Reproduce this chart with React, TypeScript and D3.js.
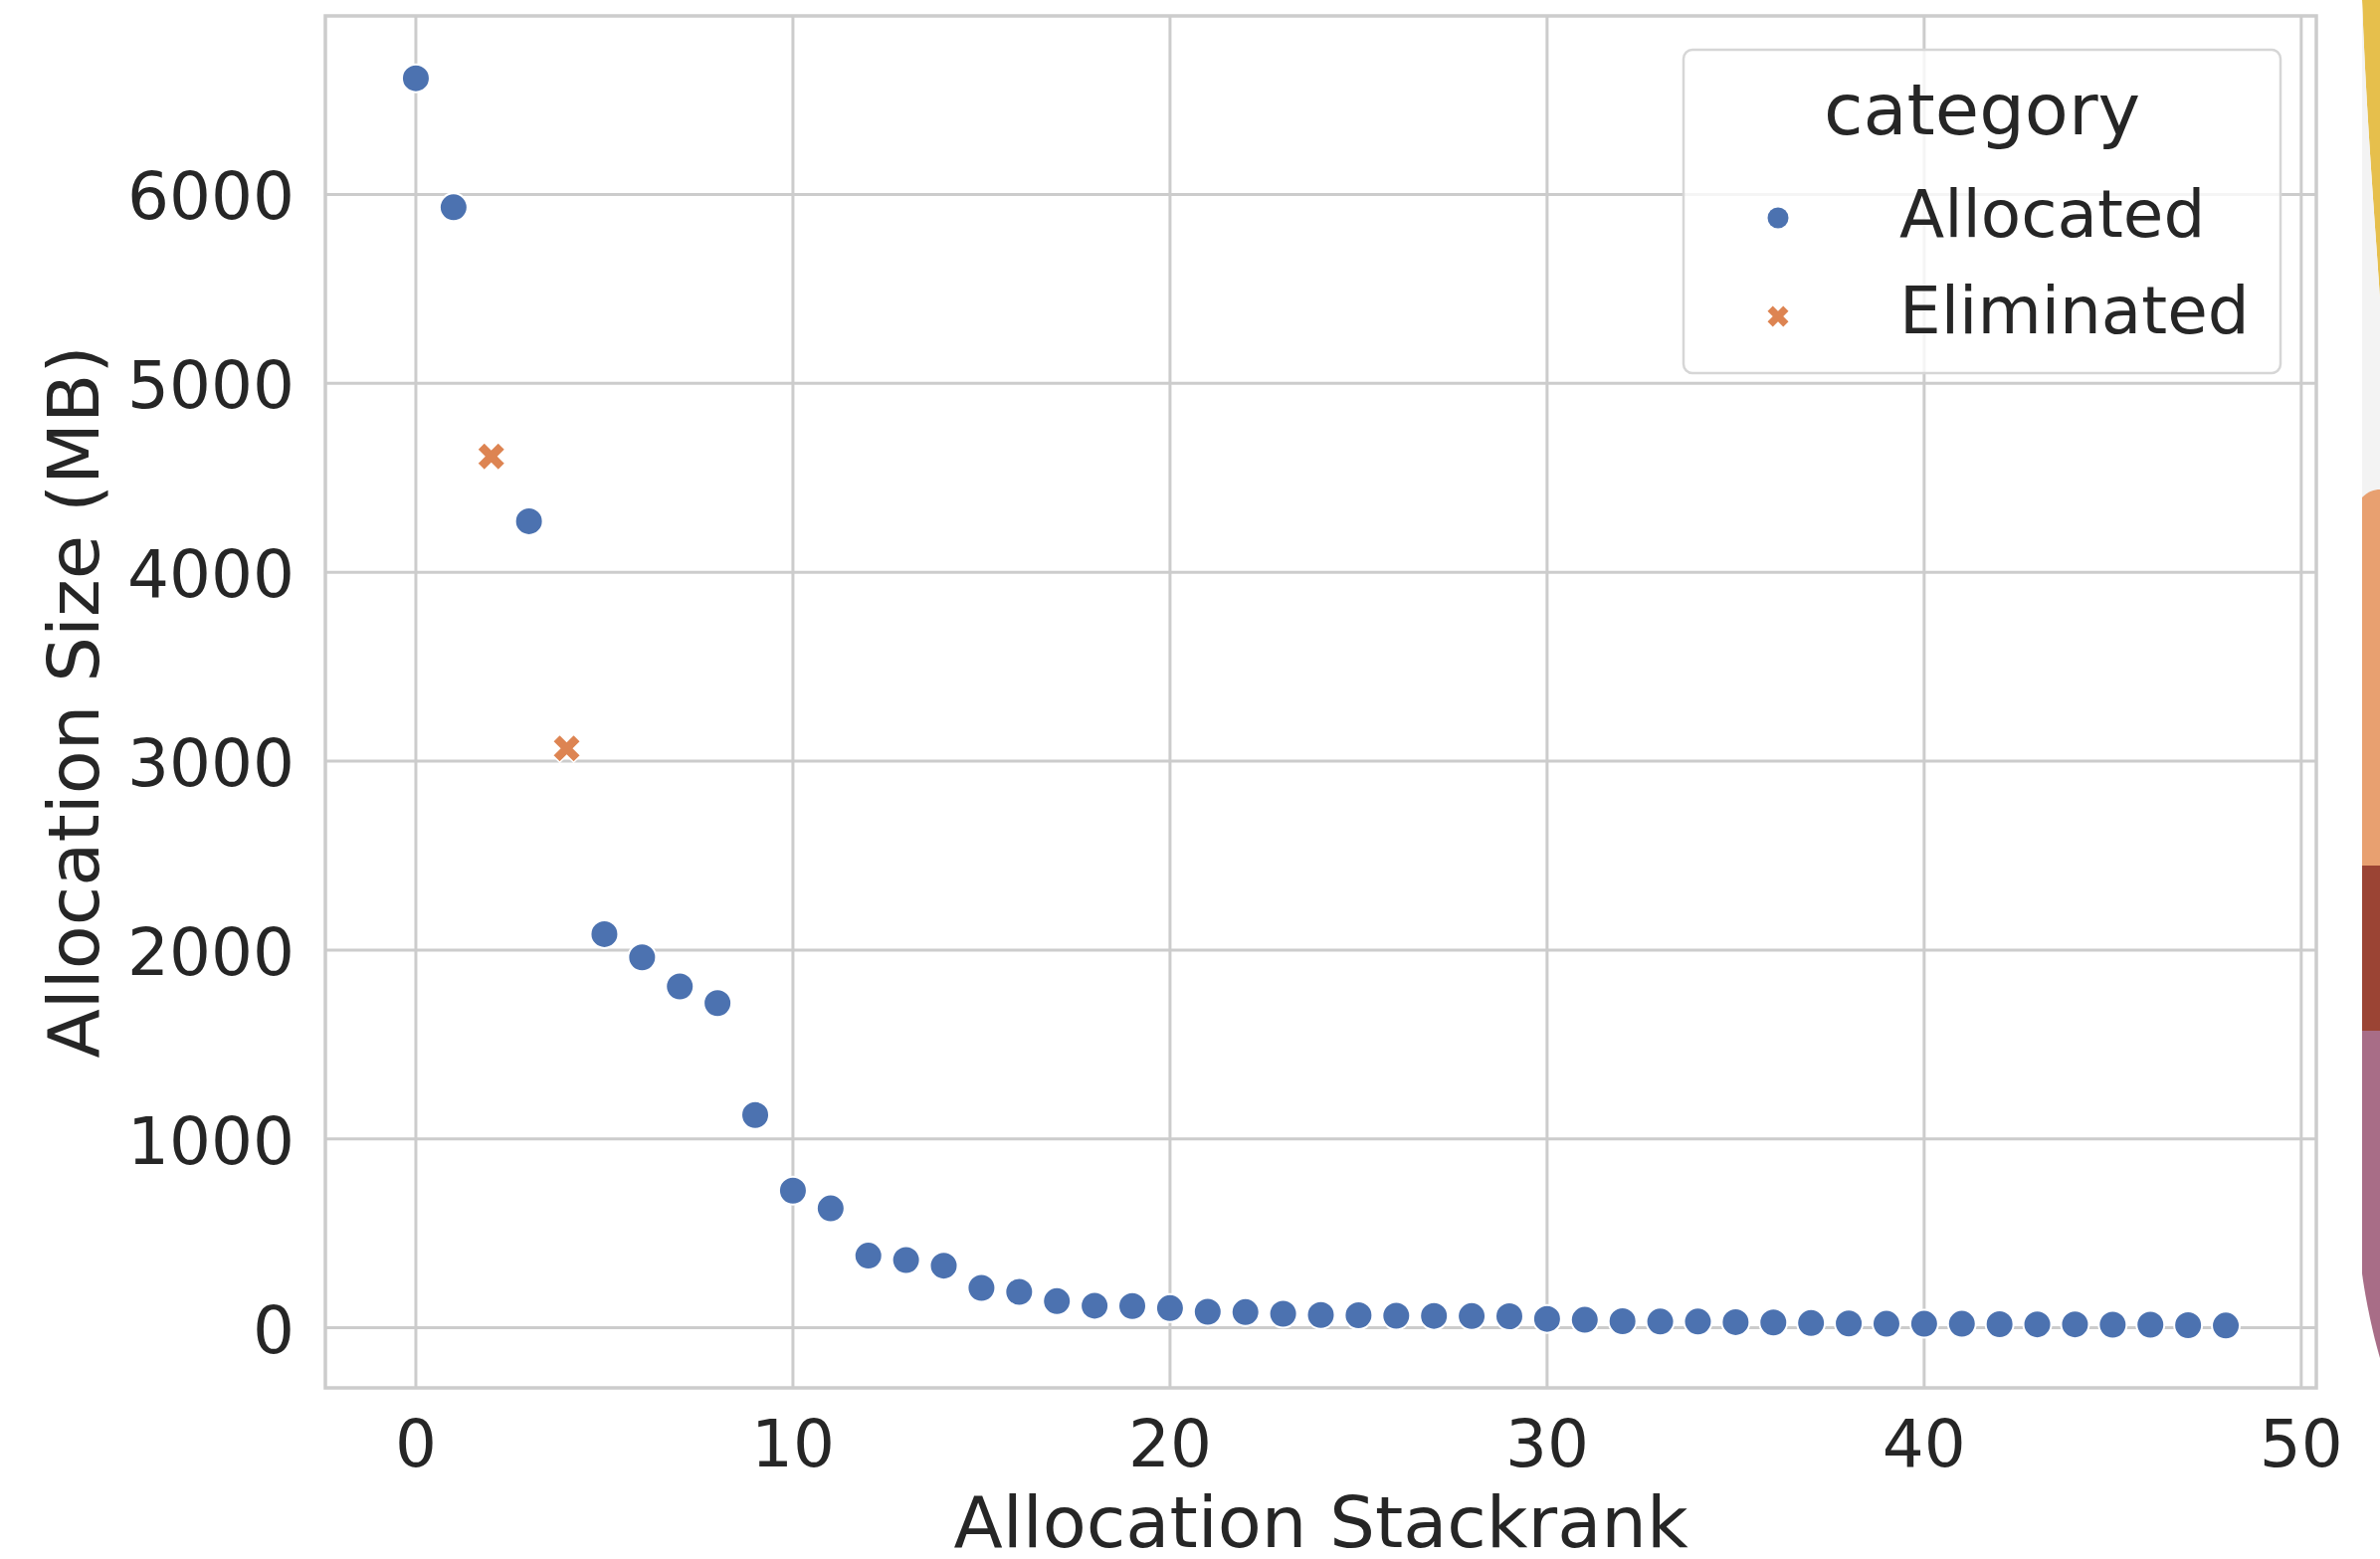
import React from 'react';
import * as d3 from 'd3';

// allocation stackrank (x) and size in MB (y)
const stackrank = [
  0, 1, 2, 3, 4, 5, 6, 7, 8, 9,
  10, 11, 12, 13, 14, 15, 16, 17, 18, 19,
  20, 21, 22, 23, 24, 25, 26, 27, 28, 29,
  30, 31, 32, 33, 34, 35, 36, 37, 38, 39,
  40, 41, 42, 43, 44, 45, 46, 47, 48,
];
const sizeMB = [
  6615, 5932, 4613, 4270, 3067, 2084, 1961, 1807, 1719, 1126,
  726, 632, 382, 359, 329, 211, 190, 141, 117, 115,
  104, 85, 83, 74, 68, 66, 64, 63, 62, 61,
  47, 42, 35, 33, 33, 30, 28, 25, 23, 21,
  21, 21, 19, 18, 18, 16, 16, 14, 12,
];
const eliminatedRanks = [2, 4];
const categories = ['Allocated', 'Eliminated'];
const xTicks = [0, 10, 20, 30, 40, 50];
const yTicks = [0, 1000, 2000, 3000, 4000, 5000, 6000];

const W = 2392;
const H = 1567;
const colors = ['#4c72b0', '#dd8452'];
const textColor = '#262626';
const gridColor = '#cccccc';
const font = '"DejaVu Sans", sans-serif';

// matplotlib's filled 'X' marker, centred, half size = s
const xMarker = (s: number) => {
  const pts = [[-1, -2], [0, -1], [1, -2], [2, -1], [1, 0], [2, 1], [1, 2], [0, 1], [-1, 2], [-2, 1], [-1, 0], [-2, -1]];
  return 'M' + pts.map(p => [p[0] * s / 2, p[1] * s / 2].join(',')).join('L') + 'Z';
};

const Marker = ({ cat, cx, cy, r, edge }: { cat: string; cx: number; cy: number; r: number; edge: number }) => {
  if (cat === 'Eliminated') {
    return <path d={xMarker(r)} transform={`translate(${cx},${cy})`} fill={colors[1]}
                 stroke="#fff" strokeWidth={edge} strokeLinejoin="miter"/>;
  }
  return <circle cx={cx} cy={cy} r={r} fill={colors[0]} stroke="#fff" strokeWidth={edge}/>;
};

const App = () => {
  const left = 327, right = 2328, top = 16, bottom = 1395;

  // 5% margins like matplotlib's autoscale
  const xExt = d3.extent(stackrank) as [number, number];
  const yExt = d3.extent(sizeMB) as [number, number];
  const xPad = (xExt[1] - xExt[0]) * 0.05;
  const yPad = (yExt[1] - yExt[0]) * 0.05;
  const x = d3.scaleLinear().domain([xExt[0] - xPad, xExt[1] + xPad]).range([left, right]);
  const y = d3.scaleLinear().domain([yExt[0] - yPad, yExt[1] + yPad]).range([bottom, top]);

  const points = stackrank.map((r, i) => ({
    rank: r,
    size: sizeMB[i],
    cat: eliminatedRanks.includes(r) ? categories[1] : categories[0],
  }));

  const legend = { x: 1692, y: 50, w: 600, h: 325 };

  return (
    <svg width={W} height={H} viewBox={`0 0 ${W} ${H}`}
         style={{ position: 'absolute', left: 0, top: 0, background: '#fff' }}
         fontFamily={font} fill={textColor}>
      <rect x={0} y={0} width={W} height={H} fill="#fff"/>

      {/* grid */}
      <g stroke={gridColor} strokeWidth={3}>
        {xTicks.map(t => <line key={'gx' + t} x1={x(t)} x2={x(t)} y1={top} y2={bottom}/>)}
        {yTicks.map(t => <line key={'gy' + t} x1={left} x2={right} y1={y(t)} y2={y(t)}/>)}
      </g>
      <rect x={left} y={top} width={right - left} height={bottom - top}
            fill="none" stroke={gridColor} strokeWidth={3.5}/>

      {/* points */}
      <g>
        {points.map(p => (
          <Marker key={p.rank} cat={p.cat} cx={x(p.rank)} cy={y(p.size)}
                  r={p.cat === 'Eliminated' ? 14 : 14} edge={p.cat === 'Eliminated' ? 1.5 : 2}/>
        ))}
      </g>

      {/* tick labels */}
      <g fontSize={66}>
        {xTicks.map(t => (
          <text key={'tx' + t} x={x(t)} y={1474} textAnchor="middle">{t}</text>
        ))}
        {yTicks.map(t => (
          <text key={'ty' + t} x={296} y={y(t) + 25} textAnchor="end">{t}</text>
        ))}
      </g>

      {/* axis labels */}
      <g fontSize={72}>
        <text x={(left + right) / 2} y={1555} textAnchor="middle">Allocation Stackrank</text>
        <text transform={`translate(99,${(top + bottom) / 2}) rotate(-90)`} textAnchor="middle">
          Allocation Size (MB)
        </text>
      </g>

      {/* legend */}
      <g>
        <rect x={legend.x} y={legend.y} width={legend.w} height={legend.h} rx={9}
              fill="#fff" fillOpacity={0.8} stroke="#d6d6d6" strokeWidth={2.5}/>
        <text x={legend.x + legend.w / 2} y={135} fontSize={72} textAnchor="middle">category</text>
        {categories.map((c, i) => (
          <g key={c}>
            <Marker cat={c} cx={1787} cy={219 + i * 99} r={i === 0 ? 10.5 : 10.5} edge={0}/>
            <text x={1909} y={238 + i * 97} fontSize={66}>{c}</text>
          </g>
        ))}
      </g>

      {/* edge of the neighbouring picture, cut off on the right */}
      <g>
        <path d="M2374,0 L2392,0 L2392,300 C2386,210 2378,110 2374,0 Z" fill="#e6bf4c"/>
        <path d="M2374,0 C2378,110 2386,210 2392,300 L2392,492 L2374,500 Z" fill="#f3f3f3"/>
        <path d="M2374,500 C2380,494 2386,492 2392,492 L2392,870 L2374,870 Z" fill="#e8a070"/>
        <rect x={2374} y={870} width={18} height={166} fill="#9b4434"/>
        <path d="M2374,1036 L2392,1036 L2392,1365 C2386,1345 2378,1310 2374,1280 Z" fill="#a86d87"/>
      </g>
    </svg>
  );
};

export default App;
